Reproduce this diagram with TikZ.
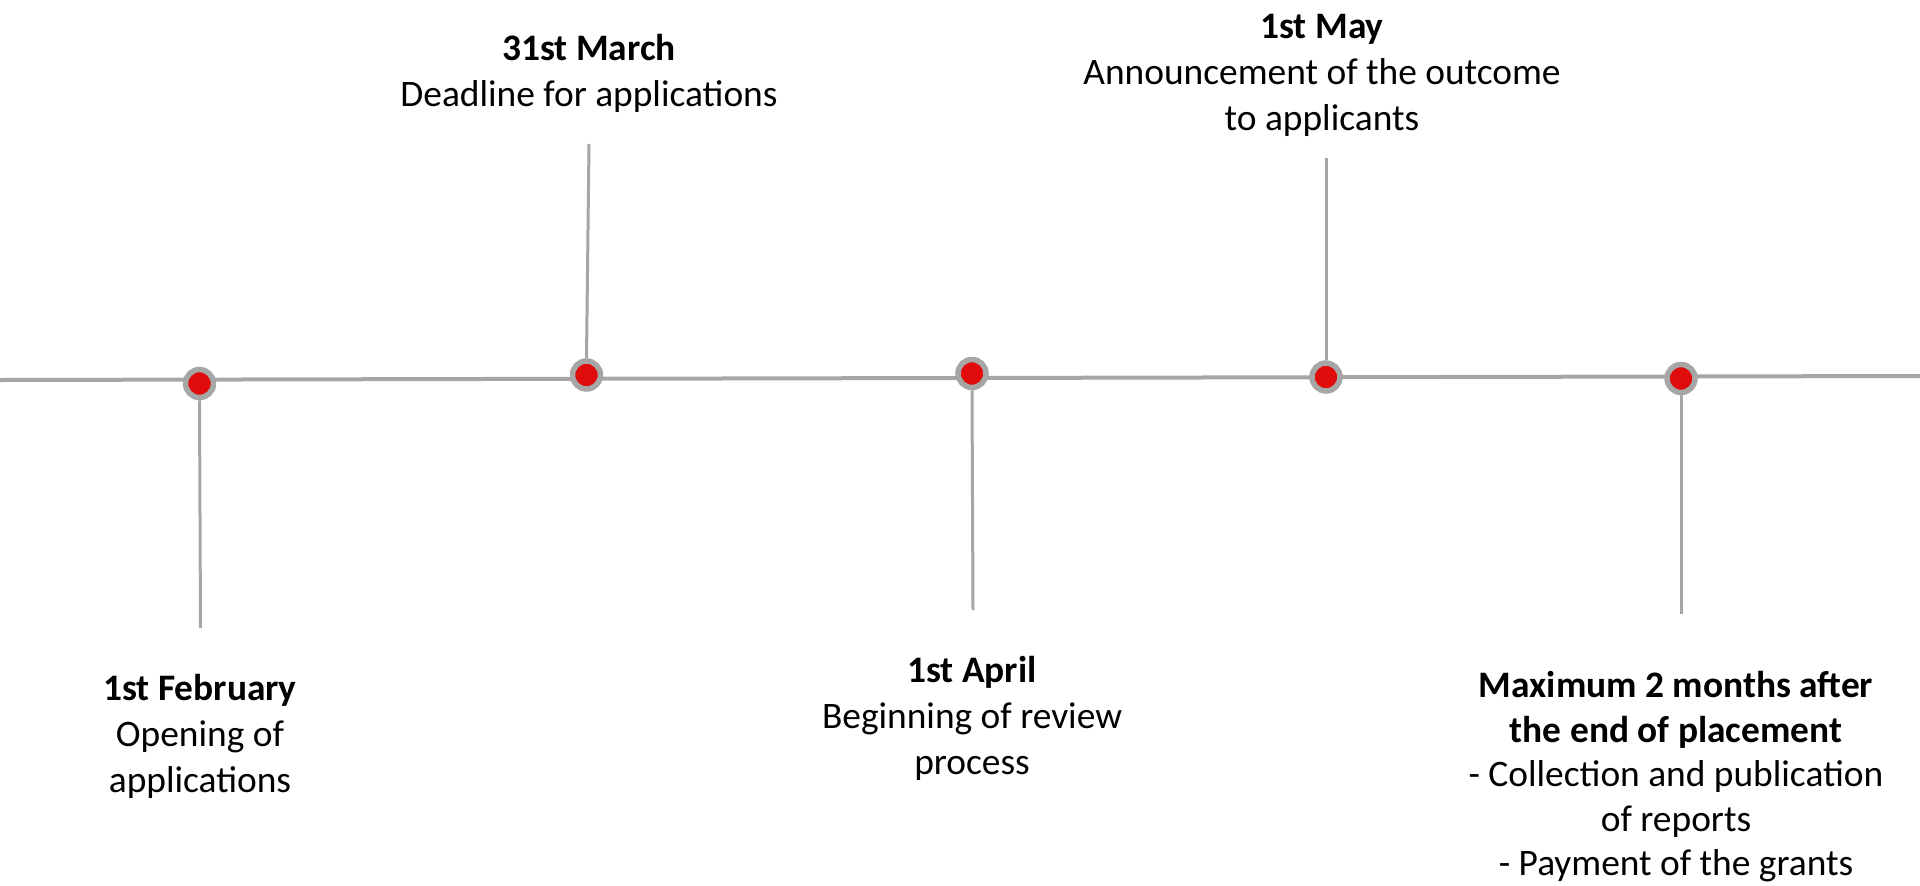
\documentclass[tikz,border=0pt]{standalone}
\usepackage{fontspec}
\setmainfont{Carlito}
\definecolor{lgray}{HTML}{A6A6A6}
\definecolor{dotred}{HTML}{E00B0B}
\begin{document}
\begin{tikzpicture}[x=1pt,y=-1pt,
  lbl/.style={align=center,font=\fontsize{37.4}{46}\selectfont,inner sep=0pt,anchor=center},
  dotnode/.style={circle,fill=dotred,draw=lgray,line width=5.5pt,minimum size=28pt,inner sep=0pt},
  tick/.style={draw=lgray,line width=3pt},
  axis/.style={draw=lgray,line width=4pt}]
\useasboundingbox (0,0) rectangle (1920,886);
\coordinate (L) at (0,380);
\coordinate (R) at (1920,376);
\draw[axis] (L) -- (R);
% tick ends
\coordinate (t1) at (200.5,628);
\coordinate (t2) at (589,144);
\coordinate (t3) at (973,610);
\coordinate (t4) at (1326,158);
\coordinate (t5) at (1681,614);
\node[dotnode] (d1) at (199.5,383.5) {};
\node[dotnode] (d2) at (586.5,375) {};
\node[dotnode] (d3) at (972,373.5) {};
\node[dotnode] (d4) at (1326,377) {};
\node[dotnode] (d5) at (1681,378.5) {};
\draw[tick] (d1.south) -- (t1);
\draw[tick] (d2.north) -- (t2);
\draw[tick] (d3.south) -- (t3);
\draw[tick] (d4.north) -- (t4);
\draw[tick] (d5.south) -- (t5);
% labels
\node[lbl] (l2) at (589,73) {\textbf{31st March}\\Deadline for applications};
\node[lbl] (l4) at (1322,75) {\textbf{1st May}\\Announcement of the outcome\\to applicants};
\node[lbl] (l1) at (200,736) {\textbf{1st February}\\Opening of\\applications};
\node[lbl] (l3) at (972,718) {\textbf{1st April}\\Beginning of review\\process};
\node[lbl,font=\fontsize{37.4}{44.5}\selectfont] (l5) at (1676,777) {\textbf{Maximum 2 months after}\\\textbf{the end of placement}\\- Collection and publication\\of reports\\- Payment of the grants};
\end{tikzpicture}
\end{document}
